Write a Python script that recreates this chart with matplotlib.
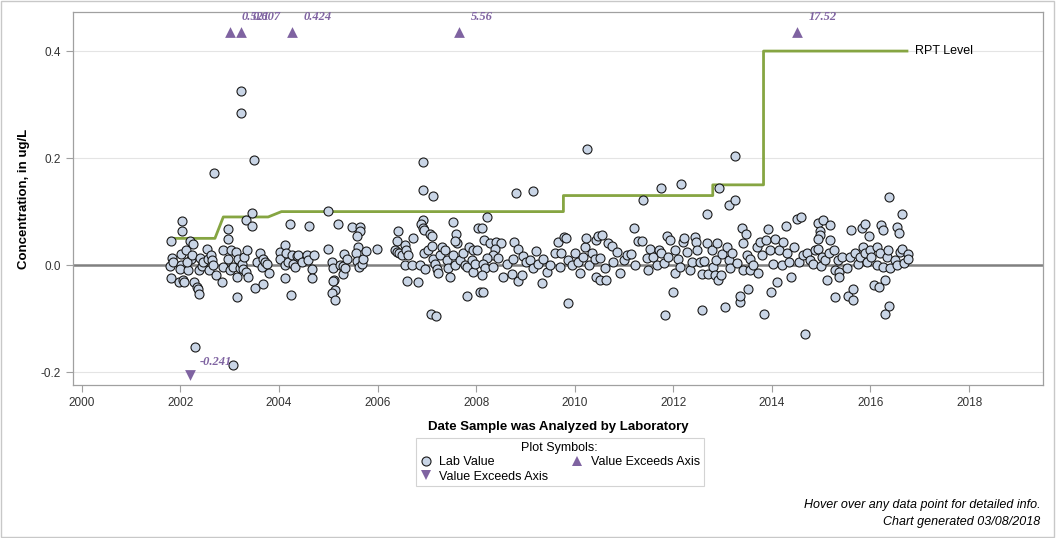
import matplotlib
matplotlib.use('Agg')
import matplotlib.pyplot as plt
from matplotlib.lines import Line2D
from matplotlib.patches import Rectangle

plt.rcParams['font.family'] = ['Liberation Sans', 'DejaVu Sans']

# lab results: decimal year, concentration (ug/L)
lab_year = [
    2001.81, 2002.03, 2002.03, 2001.82, 2001.79, 2001.85, 2001.80, 2001.97, 2002.06, 2002.07,
    2002.02, 2002.02, 2002.00, 2002.12, 2002.16, 2002.19, 2002.26, 2002.21, 2002.14, 2002.24,
    2002.28, 2002.33, 2002.36, 2002.38, 2002.29, 2002.40, 2002.38, 2002.43, 2002.46, 2002.53,
    2002.55, 2002.58, 2002.63, 2002.65, 2002.67, 2002.73, 2002.85, 2002.87, 2002.87, 2002.97,
    2002.97, 2002.97, 2003.00, 2003.02, 2003.07, 2003.13, 2003.14, 2003.15, 2003.17, 2003.21,
    2003.24, 2003.26, 2003.29, 2003.33, 2003.36, 2003.38, 2003.33, 2003.46, 2003.46, 2003.51,
    2003.55, 2003.61, 2003.65, 2003.67, 2003.68, 2003.71, 2003.75, 2003.80, 2004.03, 2004.03,
    2004.13, 2004.14, 2004.12, 2004.13, 2004.19, 2004.22, 2004.24, 2004.26, 2004.29, 2004.32,
    2004.36, 2004.39, 2004.46, 2004.56, 2004.59, 2004.61, 2004.66, 2004.66, 2004.72,
    2003.23, 2003.23, 2003.49, 2002.68, 2003.06,
    # 2005 - 2008
    2005.00, 2005.00, 2005.20, 2005.07, 2005.10, 2005.11, 2005.10, 2005.13, 2005.07, 2005.13,
    2005.24, 2005.30, 2005.32, 2005.29, 2005.34, 2005.38, 2005.49, 2005.64, 2005.64, 2005.59,
    2005.61, 2005.57, 2005.59, 2005.63, 2005.68, 2005.71, 2005.76, 2005.98, 2006.42, 2006.40,
    2006.35, 2006.39, 2006.44, 2006.49, 2006.56, 2006.58, 2006.62, 2006.56, 2006.60, 2006.69,
    2006.72, 2006.81, 2006.86, 2006.93, 2007.13, 2006.93, 2006.89, 2006.93, 2006.94, 2007.06,
    2007.10, 2006.94, 2006.96, 2007.03, 2007.10, 2007.13, 2007.16, 2007.20, 2007.23, 2007.27,
    2007.30, 2007.37, 2007.40, 2007.43, 2007.47, 2007.52, 2007.54, 2007.57, 2007.60, 2007.62,
    2007.57, 2007.67, 2007.74, 2007.77, 2007.81, 2007.82, 2007.86, 2007.91, 2007.94, 2007.94,
    2007.98, 2008.04, 2008.01, 2008.08, 2007.08, 2007.18, 2006.92,
    # 2008 - 2011
    2008.81, 2009.16, 2008.22, 2008.11, 2008.16, 2008.28, 2008.41, 2008.50, 2008.38, 2008.35,
    2008.21, 2008.14, 2008.18, 2008.11, 2008.13, 2008.35, 2008.45, 2008.55, 2008.62, 2008.72,
    2008.75, 2008.77, 2008.84, 2008.85, 2008.92, 2008.96, 2009.02, 2009.09, 2009.16, 2009.21,
    2009.26, 2009.34, 2009.36, 2009.43, 2009.50, 2009.60, 2009.67, 2009.70, 2009.73, 2009.78,
    2009.82, 2009.87, 2009.87, 2009.94, 2010.00, 2010.07, 2010.11, 2010.17, 2010.21, 2010.23,
    2010.28, 2010.34, 2010.41, 2010.44, 2010.43, 2010.51, 2010.48, 2010.55, 2010.51, 2010.61,
    2010.63, 2010.68, 2010.75, 2010.78, 2010.85, 2010.92, 2010.99, 2011.05, 2011.15, 2011.20,
    2011.22, 2011.29, 2010.25,
    # 2011 - 2014
    2011.75, 2012.16, 2012.93, 2011.39, 2013.12, 2013.25, 2012.69, 2011.36, 2011.49, 2011.46,
    2011.53, 2011.59, 2011.66, 2011.70, 2011.74, 2011.81, 2011.83, 2011.88, 2011.93, 2011.90,
    2012.00, 2012.03, 2012.03, 2012.10, 2012.13, 2012.19, 2012.22, 2012.27, 2012.34, 2012.37,
    2012.44, 2012.47, 2012.49, 2012.54, 2012.58, 2012.59, 2012.62, 2012.68, 2012.71, 2012.78,
    2012.80, 2012.85, 2012.87, 2012.89, 2012.91, 2012.96, 2012.98, 2013.05, 2013.08, 2013.12,
    2013.15, 2013.20, 2013.29, 2013.35, 2013.35, 2013.39, 2013.41, 2013.42, 2013.47, 2013.49,
    2013.52, 2013.56, 2013.56, 2013.62, 2013.69, 2013.72, 2013.76, 2013.79, 2013.84, 2013.88,
    2013.93, 2013.96, 2013.99, 2014.03, 2014.06, 2014.11, 2014.15, 2014.20, 2014.23, 2014.29,
    2014.30, 2014.35, 2014.39, 2014.44, 2014.50, 2014.54, 2013.25,
    # 2014 - 2017
    2016.38, 2016.63, 2014.60, 2014.94, 2015.04, 2015.17, 2014.98, 2014.98, 2014.94, 2015.60,
    2015.82, 2015.88, 2015.96, 2016.21, 2016.26, 2016.53, 2016.57, 2015.18, 2014.64, 2014.71,
    2014.77, 2014.84, 2014.87, 2014.94, 2015.01, 2014.99, 2015.08, 2015.11, 2015.15, 2015.25,
    2015.28, 2015.28, 2015.35, 2015.37, 2015.37, 2015.42, 2015.52, 2015.55, 2015.59, 2015.65,
    2015.65, 2015.69, 2015.75, 2015.79, 2015.84, 2015.89, 2015.92, 2015.99, 2016.02, 2016.07,
    2016.13, 2016.14, 2016.18, 2016.19, 2016.26, 2016.30, 2016.34, 2016.38, 2016.30, 2016.36,
    2016.40, 2016.50, 2016.53, 2016.60, 2016.67, 2016.63, 2016.77, 2016.77, 2014.67,
]
lab_value = [
    0.045, 0.082, 0.064, 0.014, -0.002, 0.005, -0.025, -0.031, -0.027, -0.032,
    0.021, 0.000, -0.008, 0.028, -0.009, 0.045, 0.039, 0.012, 0.006, 0.019,
    -0.031, -0.040, -0.045, -0.054, -0.153, 0.014, -0.009, -0.002, 0.006, 0.030,
    0.011, -0.009, 0.019, 0.009, 0.000, -0.019, -0.032, 0.028, -0.004, 0.067,
    0.048, 0.012, -0.010, 0.028, -0.003, 0.025, -0.022, -0.059, 0.012, -0.006,
    0.003, -0.008, 0.016, -0.012, 0.029, -0.022, 0.084, 0.098, 0.073, -0.043,
    0.006, 0.022, -0.003, -0.035, 0.012, 0.006, 0.003, -0.014, 0.025, 0.012,
    0.037, 0.022, 0.000, -0.025, 0.006, 0.076, -0.056, 0.019, 0.003, -0.003,
    0.017, 0.019, 0.006, 0.019, 0.009, 0.074, -0.008, -0.024, 0.019,
    0.325, 0.284, 0.196, 0.172, -0.187,
    # 2005 - 2008
    0.102, 0.031, 0.077, 0.006, -0.006, -0.027, -0.030, -0.047, -0.053, -0.065,
    0.000, -0.002, 0.021, -0.017, -0.006, 0.011, 0.072, 0.072, 0.064, 0.054,
    0.034, 0.023, 0.008, -0.004, 0.002, 0.012, 0.027, 0.030, 0.064, 0.045,
    0.028, 0.025, 0.023, 0.019, 0.037, 0.029, 0.019, 0.000, -0.030, 0.000,
    0.050, -0.032, 0.000, 0.141, 0.129, 0.085, 0.076, 0.069, 0.066, 0.059,
    0.054, 0.023, -0.008, 0.028, 0.036, 0.012, 0.003, -0.008, -0.014, 0.019,
    0.034, 0.028, 0.009, -0.006, -0.022, 0.080, 0.019, 0.000, 0.059, 0.042,
    0.045, 0.009, 0.023, 0.000, -0.004, -0.058, 0.034, 0.009, 0.029, -0.012,
    0.003, 0.069, 0.028, -0.050, -0.091, -0.095, 0.193,
    # 2008 - 2011
    0.134, 0.138, 0.089, 0.069, 0.047, 0.042, 0.044, 0.041, 0.031, 0.019,
    0.013, 0.003, -0.006, -0.019, -0.050, -0.003, 0.014, -0.022, 0.003, -0.016,
    0.011, 0.043, 0.031, -0.029, -0.019, 0.017, 0.006, 0.009, -0.006, 0.027,
    0.003, -0.033, 0.011, -0.012, 0.000, 0.022, 0.044, -0.003, 0.023, 0.053,
    0.050, -0.070, 0.009, 0.000, 0.022, 0.006, -0.014, 0.016, 0.034, 0.050,
    0.000, 0.022, 0.012, 0.047, -0.022, -0.028, 0.054, 0.056, 0.014, -0.006,
    -0.028, 0.042, 0.036, 0.006, 0.025, -0.014, 0.009, 0.019, 0.021, 0.069,
    0.000, 0.045, 0.217,
    # 2011 - 2014
    0.145, 0.151, 0.145, 0.122, 0.112, 0.122, 0.095, 0.045, -0.009, 0.013,
    0.031, 0.016, 0.000, 0.028, 0.023, 0.004, -0.093, 0.054, 0.047, 0.016,
    -0.050, 0.028, -0.014, 0.012, -0.004, 0.044, 0.050, 0.025, -0.010, 0.006,
    0.052, 0.044, 0.028, 0.006, -0.017, -0.084, 0.008, 0.041, -0.016, 0.028,
    -0.004, -0.019, 0.009, 0.041, -0.027, -0.019, 0.021, -0.078, 0.034, 0.009,
    -0.006, 0.022, 0.004, -0.068, -0.057, 0.070, -0.009, 0.041, 0.058, 0.019,
    -0.044, -0.009, 0.012, 0.000, 0.034, -0.014, 0.044, 0.019, -0.092, 0.047,
    0.067, 0.028, -0.050, 0.002, 0.048, -0.031, 0.029, 0.000, 0.044, 0.074,
    0.022, 0.006, -0.023, 0.033, 0.087, 0.006, 0.204,
    # 2014 - 2017
    0.128, 0.095, 0.089, 0.078, 0.085, 0.075, 0.064, 0.056, 0.048, 0.065,
    0.069, 0.077, 0.054, 0.075, 0.065, 0.072, 0.060, 0.047, 0.019, 0.022,
    0.009, 0.003, 0.028, 0.031, 0.016, -0.002, 0.009, -0.027, 0.023, 0.029,
    -0.010, -0.059, 0.009, -0.012, -0.023, 0.016, -0.006, -0.058, 0.016, -0.044,
    -0.065, 0.023, 0.003, 0.016, 0.034, 0.022, 0.006, 0.028, 0.016, -0.037,
    0.000, 0.034, -0.040, 0.022, -0.004, -0.028, 0.016, -0.077, -0.092, 0.028,
    -0.006, 0.009, 0.000, 0.025, 0.004, 0.031, 0.021, 0.012, -0.129,
]

# reporting level (RPT) over time
rpt_year = [2001.79, 2002.70, 2002.87, 2003.78, 2004.05, 2009.77, 2009.77, 2012.80, 2012.80,
            2013.83, 2013.83, 2016.74]
rpt_value = [0.05, 0.05, 0.09, 0.09, 0.10, 0.10, 0.13, 0.13, 0.15, 0.15, 0.40, 0.40]

# values off the axis
up_year = [2003.00, 2003.23, 2004.26, 2007.65, 2014.50]
up_label = ['0.521', '0.607', '0.424', '5.56', '17.52']
down_year = [2002.19]
down_label = ['-0.241']

Y_MIN, Y_MAX = -0.224, 0.473
UP_Y, DOWN_Y = 0.435, -0.205

purple = '#7f63a1'
green = '#86a542'

fig = plt.figure(figsize=(10.56, 5.38), dpi=100)
ax = fig.add_axes([0.0691, 0.2844, 0.9186, 0.6933])

ax.axhline(0, color='#808080', lw=1.8, zorder=1)
for g in [0.4, 0.2, -0.2]:
    ax.axhline(g, color='#e4e4e4', lw=0.8, zorder=0)

ax.plot(rpt_year, rpt_value, color=green, lw=2, zorder=2)
ax.text(rpt_year[-1] + 0.16, rpt_value[-1], 'RPT Level', fontsize=9, va='center', ha='left')

ax.scatter(lab_year, lab_value, s=42, facecolor='#c9d5e6', edgecolor='#1a1a1a', lw=0.8, zorder=3)

label_font = dict(color=purple, fontsize=9, fontweight='bold', fontstyle='italic',
                  family=['Liberation Serif', 'DejaVu Serif'], ha='left', va='center')
ax.scatter(up_year, [UP_Y] * len(up_year), marker='^', s=60, color=purple, lw=0, zorder=4)
for x, t in zip(up_year, up_label):
    ax.text(x + 0.24, 0.4636, t, **label_font)
ax.scatter(down_year, [DOWN_Y] * len(down_year), marker='v', s=60, color=purple, lw=0, zorder=4)
for x, t in zip(down_year, down_label):
    ax.text(x + 0.2, -0.181, t, **label_font)

ax.set_xlim(1999.82, 2019.5)
ax.set_ylim(Y_MIN, Y_MAX)
ax.set_xticks(range(2000, 2019, 2))
ax.set_yticks([-0.2, 0.0, 0.2, 0.4])
ax.set_yticklabels(['-0.2', '0.0', '0.2', '0.4'])
ax.tick_params(colors='#333333', labelsize=8.5, length=5, width=0.8)
ax.tick_params(axis='both', color='#a0a0a0')
for s in ax.spines.values():
    s.set_color('#a0a0a0')
    s.set_linewidth(0.9)

ax.set_xlabel('Date Sample was Analyzed by Laboratory', fontsize=9.5, fontweight='bold', labelpad=9)
ax.set_ylabel('Concentration, in ug/L', fontsize=9.5, fontweight='bold', labelpad=8)

handles = [
    Line2D([], [], marker='o', ls='', markersize=6.5, markerfacecolor='#c9d5e6',
           markeredgecolor='#1a1a1a', markeredgewidth=0.8, label='Lab Value'),
    Line2D([], [], marker='v', ls='', markersize=7.5, color=purple, markeredgewidth=0,
           label='Value Exceeds Axis'),
    Line2D([], [], marker='^', ls='', markersize=7.5, color=purple, markeredgewidth=0,
           label='Value Exceeds Axis'),
]
leg = fig.legend(handles=handles, ncol=2, title='Plot Symbols:', loc='upper center',
                 bbox_to_anchor=(0.530, 0.186), borderaxespad=0, fontsize=9, title_fontsize=9,
                 frameon=True, fancybox=False, edgecolor='#c8c8c8', handlelength=1.0,
                 handletextpad=0.6, columnspacing=1.8, labelspacing=0.2, borderpad=0.3)
leg.get_frame().set_linewidth(0.8)

fig.text(0.985, 0.0615, 'Hover over any data point for detailed info.', ha='right', va='center',
         fontsize=9, fontstyle='italic')
fig.text(0.985, 0.030, 'Chart generated 03/08/2018', ha='right', va='center',
         fontsize=9, fontstyle='italic')

fig.patches.append(Rectangle((0.0005, 0.001), 0.998, 0.997, transform=fig.transFigure,
                             fill=False, edgecolor='#c8c8c8', lw=1))

fig.savefig('out.png', dpi=100)
